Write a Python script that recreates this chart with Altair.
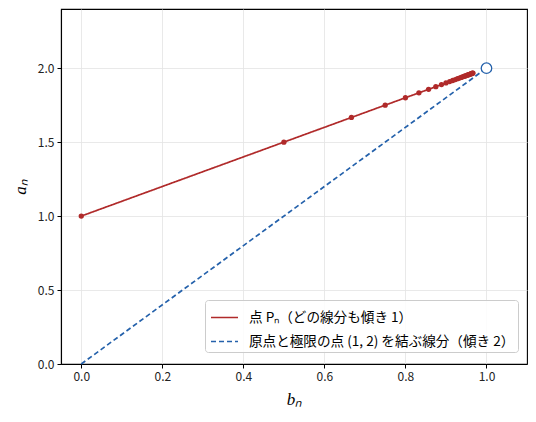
import altair as alt
import pandas as pd

# Points P_n = (b_n, a_n)
b_vals = [0.0, 0.5, 0.6667, 0.75, 0.8, 0.8333, 0.8571, 0.875, 0.8889, 0.9,
          0.9091, 0.9167, 0.9231, 0.9286, 0.9333, 0.9375, 0.9412, 0.9444, 0.9474, 0.95,
          0.9524, 0.9545, 0.9565, 0.9583, 0.96, 0.9615, 0.963, 0.9643, 0.9655, 0.9667]
a_vals = [1.0, 1.5, 1.6667, 1.75, 1.8, 1.8333, 1.8571, 1.875, 1.8889, 1.9,
          1.9091, 1.9167, 1.9231, 1.9286, 1.9333, 1.9375, 1.9412, 1.9444, 1.9474, 1.95,
          1.9524, 1.9545, 1.9565, 1.9583, 1.96, 1.9615, 1.963, 1.9643, 1.9655, 1.9667]

# Segment from origin to limit point
seg_b = [0.0, 1.0]
seg_a = [0.0, 2.0]
limit_b = [1.0]
limit_a = [2.0]

label_p = "点 Pₙ（どの線分も傾き 1）"
label_seg = "原点と極限の点 (1, 2) を結ぶ線分（傾き 2）"

RED = "#b02a2a"
BLUE = "#2461ab"
FONT = "Noto Sans CJK JP"

df_p = pd.DataFrame({"b": b_vals, "a": a_vals, "series": label_p})
df_s = pd.DataFrame({"b": seg_b, "a": seg_a, "series": label_seg})
df_lines = pd.concat([df_p, df_s], ignore_index=True)
df_lim = pd.DataFrame({"b": limit_b, "a": limit_a})

xs = alt.Scale(domain=[-0.05, 1.1], nice=False, zero=False)
ys = alt.Scale(domain=[0, 2.4], nice=False, zero=False)

x_enc = alt.X("b:Q", scale=xs, title="bₙ",
              axis=alt.Axis(values=[0, 0.2, 0.4, 0.6, 0.8, 1.0], format=".1f"))
y_enc = alt.Y("a:Q", scale=ys, title="aₙ",
              axis=alt.Axis(values=[0, 0.5, 1.0, 1.5, 2.0], format=".1f"))

lines = alt.Chart(df_lines).mark_line(strokeWidth=1.7).encode(
    x=x_enc, y=y_enc,
    color=alt.Color("series:N",
                    scale=alt.Scale(domain=[label_p, label_seg], range=[RED, BLUE]),
                    legend=alt.Legend(title=None, orient="none", legendX=144, legendY=291,
                                      symbolType="stroke", symbolSize=729,
                                      symbolStrokeWidth=1.7, symbolOffset=2,
                                      labelFont=FONT, labelFontSize=13.6, labelLimit=400,
                                      labelOffset=10,
                                      rowPadding=2, padding=3,
                                      fillColor="rgba(255,255,255,0.85)",
                                      strokeColor="#cccccc", cornerRadius=3)),
    strokeDash=alt.StrokeDash("series:N",
                              scale=alt.Scale(domain=[label_p, label_seg],
                                              range=[[1, 0], [5, 3]])),
    detail="series:N",
)

pts = alt.Chart(df_p).mark_circle(size=28, opacity=1, color=RED).encode(x=x_enc, y=y_enc)

lim = alt.Chart(df_lim).mark_point(size=110, filled=True, fill="white",
                                   stroke=BLUE, strokeWidth=1.3, opacity=1).encode(
    x=x_enc, y=y_enc)

chart = alt.layer(lines, pts, lim).properties(
    width=466, height=355,
    autosize=alt.AutoSizeParams(type="none"),
    padding={"left": 53, "top": 1, "right": 1, "bottom": 50},
).configure_view(stroke="black", strokeWidth=1.1).configure_axis(
    grid=True, gridColor="#e3e3e3", gridWidth=0.8,
    domain=True, domainColor="black", domainWidth=1.1,
    tickColor="black", tickSize=4, tickWidth=1,
    labelFont=FONT, labelFontSize=12, labelColor="#222222", labelPadding=3,
    titleFont="Liberation Serif", titleFontStyle="italic", titleFontWeight="normal",
    titleFontSize=17, titleColor="black",
).configure_axisY(titlePadding=8).configure_axisX(titlePadding=9)

chart.save("out.html", embed_options={"renderer": "svg", "actions": False})
